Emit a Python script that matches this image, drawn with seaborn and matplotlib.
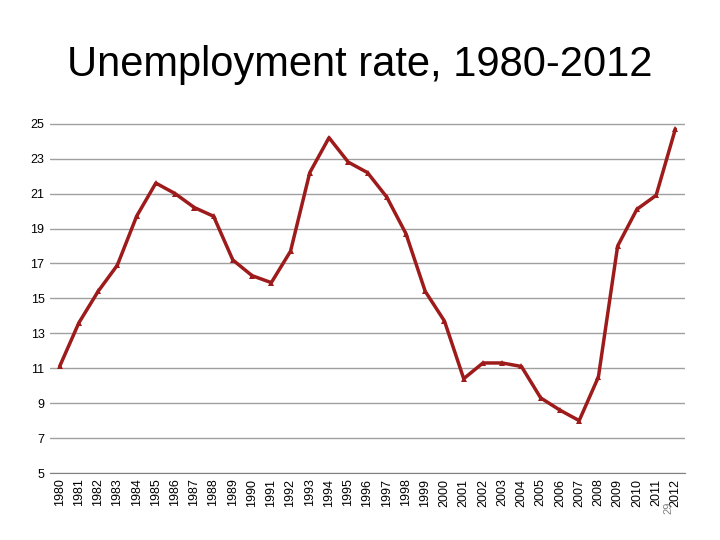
import matplotlib
matplotlib.use("Agg")
import matplotlib.pyplot as plt
import seaborn as sns
import pandas as pd

years = [str(y) for y in range(1980, 2013)]
rates = [11.1, 13.6, 15.4, 16.9, 19.7, 21.6, 21.0, 20.2, 19.7, 17.2, 16.3, 15.9, 17.7,
         22.2, 24.2, 22.8, 22.2, 20.8, 18.7, 15.4, 13.7, 10.4, 11.3, 11.3, 11.1, 9.3,
         8.6, 8.0, 10.5, 18.0, 20.1, 20.9, 24.7]
yticks = [5, 7, 9, 11, 13, 15, 17, 19, 21, 23, 25]

sns.set_style("white")
plt.rcParams['font.family'] = ['Liberation Sans', 'DejaVu Sans']
df = pd.DataFrame({"year": years, "rate": rates})

fig = plt.figure(figsize=(7.2, 5.4), dpi=100)
ax = fig.add_axes([50/720, 1-473/540, 635/720, 365/540])
sns.lineplot(data=df, x="year", y="rate", ax=ax, color="#9E1B1B", linewidth=2.5,
             marker="^", markersize=4, markeredgewidth=0, sort=False)
ax.set_xlim(-0.5, len(years) - 0.5)
ax.set_ylim(5, 25.9)
ax.set_yticks(yticks)
ax.set_yticklabels([str(t) for t in yticks], fontsize=9, color="black")
ax.set_xticks(range(len(years)))
ax.set_xticklabels(years, rotation=90, fontsize=9, color="black")
ax.yaxis.grid(True, color="#a0a0a0", linewidth=1)
ax.set_xlabel("")
ax.set_ylabel("")
for s in ["top", "right", "left"]:
    ax.spines[s].set_visible(False)
ax.spines["bottom"].set_color("#808080")
ax.tick_params(axis="both", length=0, pad=4)
fig.text(0.5, 1-65/540, "Unemployment rate, 1980-2012", ha="center", va="center",
         fontsize=30, color="black")
fig.text(668/720, 1-508/540, "29", ha="center", va="center", fontsize=8, rotation=90, color="#808080")
fig.savefig("out.png", dpi=100)
